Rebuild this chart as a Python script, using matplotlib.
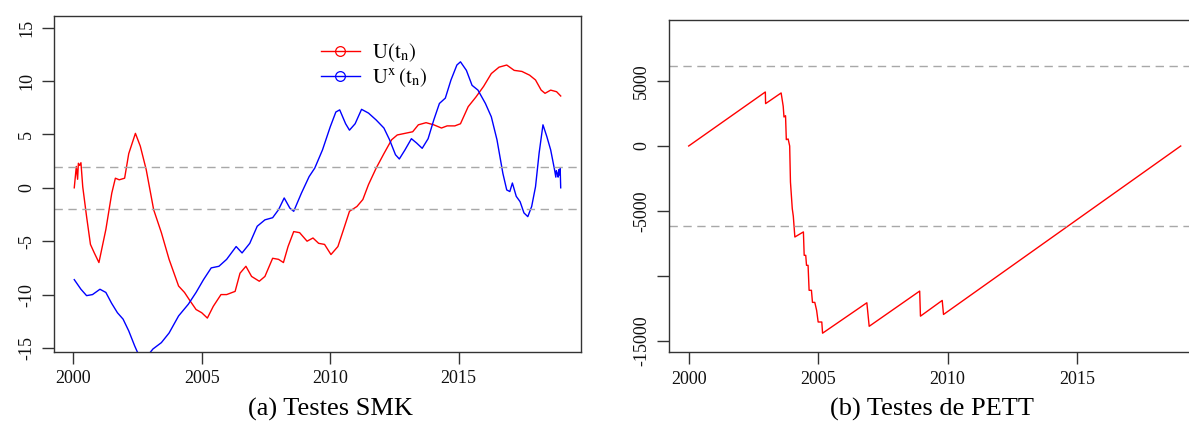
import matplotlib
matplotlib.use("Agg")
import matplotlib.pyplot as plt
from matplotlib.lines import Line2D

plt.rcParams['font.family'] = ['Liberation Serif', 'DejaVu Serif']
plt.rcParams['mathtext.fontset'] = 'stix'
plt.rcParams['axes.unicode_minus'] = False

# ---------------- data ----------------
# SMK progressive statistic U(t_n)
u_years = [2000.04, 2000.12, 2000.17, 2000.2, 2000.25, 2000.3, 2000.37, 2000.52, 2000.67, 2000.82,
           2001.0, 2001.27, 2001.5, 2001.64, 2001.79, 2002.0, 2002.16, 2002.42, 2002.61, 2002.84,
           2003.13, 2003.43, 2003.73, 2004.1, 2004.33, 2004.55, 2004.78, 2005.0, 2005.22, 2005.45,
           2005.75, 2005.97, 2006.3, 2006.49, 2006.72, 2006.94, 2007.24, 2007.46, 2007.76, 2007.99,
           2008.18, 2008.36, 2008.58, 2008.81, 2009.1, 2009.33, 2009.55, 2009.78, 2010.03, 2010.3,
           2010.52, 2010.75, 2011.04, 2011.27, 2011.49, 2011.79, 2012.09, 2012.39, 2012.61, 2012.91,
           2013.21, 2013.43, 2013.73, 2014.03, 2014.33, 2014.55, 2014.85, 2015.07, 2015.37, 2015.67,
           2015.97, 2016.27, 2016.57, 2016.87, 2017.16, 2017.46, 2017.76, 2017.99, 2018.21, 2018.36,
           2018.58, 2018.81, 2018.97]
u_values = [0.0, 2.0, 0.8, 2.3, 2.1, 2.35, 0.1, -2.7, -5.3, -6.1,
            -7.0, -3.9, -0.5, 0.9, 0.75, 0.9, 3.2, 5.1, 3.9, 1.7,
            -2.05, -4.2, -6.7, -9.2, -9.8, -10.6, -11.4, -11.7, -12.2, -11.1,
            -10.0, -10.0, -9.7, -8.0, -7.35, -8.3, -8.75, -8.3, -6.6, -6.7,
            -7.0, -5.5, -4.1, -4.2, -5.0, -4.7, -5.2, -5.3, -6.25, -5.5,
            -3.9, -2.2, -1.75, -1.1, 0.3, 1.85, 3.2, 4.5, 4.95, 5.1,
            5.25, 5.9, 6.1, 5.9, 5.6, 5.8, 5.8, 6.0, 7.6, 8.5,
            9.5, 10.7, 11.3, 11.5, 11.0, 10.9, 10.55, 10.1, 9.15, 8.85,
            9.15, 9.0, 8.6]

# SMK retrograde statistic U*(t_n)
ux_years = [2000.04, 2000.3, 2000.52, 2000.75, 2001.04, 2001.27, 2001.49, 2001.72, 2001.94, 2002.16,
            2002.39, 2002.5, 2002.8, 2003.1, 2003.43, 2003.73, 2004.1, 2004.48, 2004.78, 2005.07,
            2005.37, 2005.67, 2005.97, 2006.34, 2006.57, 2006.87, 2007.16, 2007.46, 2007.76, 2007.99,
            2008.21, 2008.43, 2008.58, 2008.88, 2009.18, 2009.4, 2009.7, 2010.0, 2010.22, 2010.37,
            2010.6, 2010.75, 2010.97, 2011.22, 2011.49, 2011.79, 2012.09, 2012.31, 2012.54, 2012.69,
            2012.91, 2013.16, 2013.36, 2013.58, 2013.81, 2014.03, 2014.25, 2014.48, 2014.7, 2014.93,
            2015.07, 2015.3, 2015.52, 2015.75, 2016.04, 2016.27, 2016.49, 2016.72, 2016.87, 2016.99,
            2017.09, 2017.24, 2017.39, 2017.54, 2017.69, 2017.84, 2017.99, 2018.13, 2018.28, 2018.43,
            2018.58, 2018.73, 2018.78, 2018.8, 2018.84, 2018.87, 2018.9, 2018.93, 2018.95, 2018.97]
ux_values = [-8.6, -9.5, -10.1, -10.0, -9.5, -9.8, -10.8, -11.7, -12.3, -13.4,
             -14.8, -15.4, -16.0, -15.1, -14.5, -13.6, -12.0, -10.9, -9.8, -8.6,
             -7.5, -7.35, -6.7, -5.5, -6.1, -5.2, -3.6, -3.0, -2.8, -2.05,
             -0.95, -1.9, -2.2, -0.5, 1.05, 1.85, 3.55, 5.7, 7.1, 7.3,
             6.0, 5.4, 6.0, 7.35, 7.0, 6.35, 5.6, 4.5, 3.1, 2.7,
             3.55, 4.6, 4.2, 3.7, 4.6, 6.35, 7.9, 8.4, 10.1, 11.5,
             11.8, 11.0, 9.6, 9.15, 7.9, 6.65, 4.5, 1.35, -0.2, -0.35,
             0.45, -0.8, -1.3, -2.35, -2.7, -1.75, 0.1, 3.25, 5.9, 4.8,
             3.55, 1.7, 1.0, 1.6, 1.35, 1.0, 1.7, 1.2, 1.8, 0.0]

smk_limits = [1.96, -1.96]

# Pettitt statistic U_t
pett_years = [2000.0, 2002.96, 2002.97, 2003.57, 2003.65, 2003.68, 2003.74, 2003.77, 2003.84, 2003.9,
              2003.93, 2004.0, 2004.04, 2004.1, 2004.43, 2004.46, 2004.52, 2004.55, 2004.61, 2004.65,
              2004.74, 2004.78, 2004.87, 2004.94, 2005.0, 2005.14, 2005.17, 2006.88, 2006.97, 2008.92,
              2008.95, 2009.79, 2009.84, 2019.0]
pett_values = [0, 4155, 3260, 4080, 3055, 2230, 2330, 490, 540, 0,
               -2770, -4820, -5400, -7000, -6610, -8410, -8410, -9180, -9180, -11100,
               -11100, -12030, -12030, -12640, -13540, -13540, -14400, -12060, -13870, -11160,
               -13090, -11880, -12960, 0]
pett_limits = [6180, -6180]

x_ticks = [2000, 2005, 2010, 2015]
smk_yticks = [-15, -10, -5, 0, 5, 10, 15]
pett_yticks = [-15000, -10000, -5000, 0, 5000]
pett_ylabels = ['-15000', '', '-5000', '0', '5000']
captions = ['(a) Testes SMK', '(b) Testes de PETT']
legend_labels = [r'$\mathrm{U}(\mathrm{t}_{\mathrm{n}})$',
                 r'$\mathrm{U}^{\mathrm{x}}\,(\mathrm{t}_{\mathrm{n}})$']

# ---------------- figure ----------------
W, H = 1189, 423
fig = plt.figure(figsize=(W / 100, H / 100), dpi=100)

def px_axes(x0, y0, x1, y1):
    return fig.add_axes([x0 / W, 1 - y1 / H, (x1 - x0) / W, (y1 - y0) / H])

ax1 = px_axes(53.7, 15.7, 581, 351.7)
ax2 = px_axes(669, 19.7, 1200.4, 352.3)

dash_kw = dict(color='#a8a8a8', lw=1.0, ls=(0, (6, 4)))
spine_col = '#333333'

for ax in (ax1, ax2):
    for s in ax.spines.values():
        s.set_color(spine_col)
        s.set_linewidth(1.0)
    ax.set_xlim(1999.24, 2019.76)
    ax.set_xticks(x_ticks)
    ax.set_xticklabels([str(t) for t in x_ticks])
    ax.tick_params(axis='both', length=8.5, width=1.0, color=spine_col, labelsize=13,
                   labelcolor='#111111')
    ax.tick_params(axis='x', pad=5)
    ax.tick_params(axis='y', pad=5)

# Left: SMK
ax1.plot(u_years, u_values, color='#ff0000', lw=1.0)
ax1.plot(ux_years, ux_values, color='#0000ff', lw=1.0)
for v in smk_limits:
    ax1.axhline(v, **dash_kw)
ax1.set_ylim(-15.35, 16.12)
ax1.set_yticks(smk_yticks)
ax1.set_yticklabels([str(t) for t in smk_yticks], rotation=90, va='center')

handles = [Line2D([], [], color='#ff0000', lw=1.0, marker='o', mfc='none', ms=7, mew=0.9),
           Line2D([], [], color='#0000ff', lw=1.0, marker='o', mfc='none', ms=7, mew=0.9)]
leg = ax1.legend(handles, legend_labels, loc='upper left',
                 bbox_to_anchor=((321 - 53.7) / (581 - 53.7), 1 - (41 - 15.7) / 336.0),
                 frameon=False, fontsize=15, handlelength=1.85, handletextpad=0.6,
                 labelspacing=0.15, borderpad=0.0, borderaxespad=0.0)

# Right: Pettitt
ax2.plot(pett_years, pett_values, color='#ff0000', lw=1.0)
for v in pett_limits:
    ax2.axhline(v, **dash_kw)
ax2.set_ylim(-15870, 9715)
ax2.set_yticks(pett_yticks)
ax2.set_yticklabels(pett_ylabels, rotation=90, va='center')

fig.text(330.5 / W, 1 - 416 / H, captions[0], ha='center', va='baseline', fontsize=19)
fig.text(932 / W, 1 - 416 / H, captions[1], ha='center', va='baseline', fontsize=19)

fig.savefig('out.png', dpi=100, facecolor='white')
